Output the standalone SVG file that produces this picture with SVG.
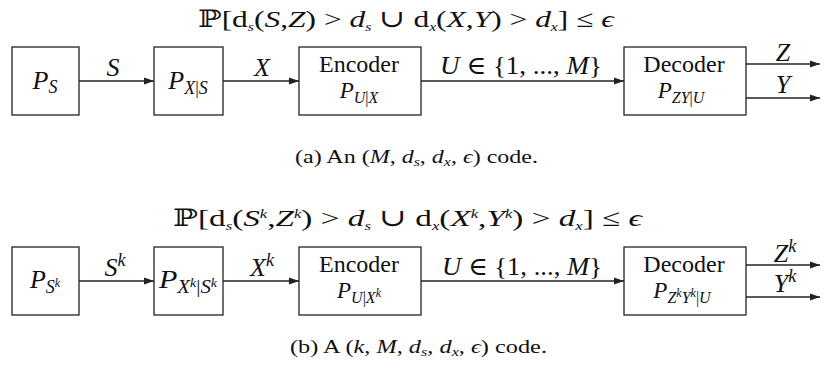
<svg xmlns="http://www.w3.org/2000/svg" width="824" height="378" viewBox="0 0 824 378">
<defs>
<style>
.box{fill:#fff;stroke:#222;stroke-width:1.3}
.ln{stroke:#222;stroke-width:1.3;fill:none;marker-end:url(#ah)}
.t{font-family:"Liberation Serif","DejaVu Serif",serif;fill:#111;font-size:26px}
.i{font-style:italic}
.s{font-size:18px}
.ss{font-size:12px}
.ti{font-size:24px}
.cap{font-size:18px}
.nm{font-size:24px}
.np{font-size:23px}
.nps{font-size:16px}
</style>
<marker id="ah" markerUnits="userSpaceOnUse" markerWidth="10" markerHeight="8" refX="10" refY="4" orient="auto">
<path d="M0,0.5 L10,4 L0,7.5 z" fill="#222"/>
</marker>
</defs>

<g id="connectors">
<line class="ln" x1="79" y1="81" x2="154" y2="81"/>
<line class="ln" x1="223" y1="81" x2="299" y2="81"/>
<line class="ln" x1="421" y1="81" x2="624" y2="81"/>
<line class="ln" x1="746" y1="64" x2="820" y2="64"/>
<line class="ln" x1="746" y1="98" x2="820" y2="98"/>
<line class="ln" x1="79" y1="281" x2="154" y2="281"/>
<line class="ln" x1="223" y1="281" x2="299" y2="281"/>
<line class="ln" x1="421" y1="281" x2="624" y2="281"/>
<line class="ln" x1="746" y1="265" x2="820" y2="265"/>
<line class="ln" x1="746" y1="297" x2="820" y2="297"/>
</g>

<g id="labels-a">
<text class="t ti" x="198" y="27" textLength="416" lengthAdjust="spacingAndGlyphs">ℙ[d<tspan class="i ss" dy="4">s</tspan><tspan dy="-4">(</tspan><tspan class="i">S</tspan>,<tspan class="i">Z</tspan>) &gt; <tspan class="i">d</tspan><tspan class="i ss" dy="4">s</tspan><tspan dy="-4"> ∪ d</tspan><tspan class="i ss" dy="4">x</tspan><tspan dy="-4">(</tspan><tspan class="i">X</tspan>,<tspan class="i">Y</tspan>) &gt; <tspan class="i">d</tspan><tspan class="i ss" dy="4">x</tspan><tspan dy="-4">] ≤ </tspan><tspan class="i">ϵ</tspan></text>
<text class="t i" x="113" y="76" text-anchor="middle">S</text>
<text class="t i" x="262" y="76" text-anchor="middle">X</text>
<text class="t i" x="521" y="74" text-anchor="middle" textLength="162" lengthAdjust="spacingAndGlyphs">U<tspan font-style="normal"> ∈ {1, ..., </tspan>M<tspan font-style="normal">}</tspan></text>
<text class="t i" x="783" y="61" text-anchor="middle">Z</text>
<text class="t i" x="783" y="93" text-anchor="middle">Y</text>
<text class="t cap" x="295" y="163" textLength="243" lengthAdjust="spacingAndGlyphs">(a)  An  (<tspan class="i">M</tspan>, <tspan class="i">d</tspan><tspan class="i ss" dy="3">s</tspan><tspan dy="-3">, </tspan><tspan class="i">d</tspan><tspan class="i ss" dy="3">x</tspan><tspan dy="-3">, </tspan><tspan class="i">ϵ</tspan>)  code.</text>
</g>

<g id="node-ps">
<rect class="box" x="12" y="47" width="67" height="68"/>
<text class="t i" x="45" y="89" text-anchor="middle">P<tspan class="s" dy="4">S</tspan></text>
</g>
<g id="node-pxs">
<rect class="box" x="154" y="47" width="69" height="68"/>
<text class="t i" x="188" y="89" text-anchor="middle">P<tspan class="s" dy="5">X</tspan><tspan class="s" font-style="normal">|</tspan><tspan class="s">S</tspan></text>
</g>
<g id="node-encoder">
<rect class="box" x="299" y="47" width="122" height="68"/>
<text class="t nm" x="359" y="72" text-anchor="middle">Encoder</text>
<text class="t i np" x="359" y="98" text-anchor="middle">P<tspan class="nps" dy="5">U</tspan><tspan class="nps" font-style="normal">|</tspan><tspan class="nps">X</tspan></text>
</g>
<g id="node-decoder">
<rect class="box" x="624" y="47" width="122" height="68"/>
<text class="t nm" x="684" y="72" text-anchor="middle">Decoder</text>
<text class="t i np" x="681" y="98" text-anchor="middle">P<tspan class="nps" dy="5">ZY</tspan><tspan class="nps" font-style="normal">|</tspan><tspan class="nps">U</tspan></text>
</g>

<g id="labels-b">
<text class="t ti" x="173" y="226" textLength="469" lengthAdjust="spacingAndGlyphs">ℙ[d<tspan class="i ss" dy="4">s</tspan><tspan dy="-4">(</tspan><tspan class="i">S</tspan><tspan class="i ss" dy="-8">k</tspan><tspan dy="8">,</tspan><tspan class="i">Z</tspan><tspan class="i ss" dy="-8">k</tspan><tspan dy="8">) &gt; </tspan><tspan class="i">d</tspan><tspan class="i ss" dy="4">s</tspan><tspan dy="-4"> ∪ d</tspan><tspan class="i ss" dy="4">x</tspan><tspan dy="-4">(</tspan><tspan class="i">X</tspan><tspan class="i ss" dy="-8">k</tspan><tspan dy="8">,</tspan><tspan class="i">Y</tspan><tspan class="i ss" dy="-8">k</tspan><tspan dy="8">) &gt; </tspan><tspan class="i">d</tspan><tspan class="i ss" dy="4">x</tspan><tspan dy="-4">] ≤ </tspan><tspan class="i">ϵ</tspan></text>
<text class="t i" x="115" y="276" text-anchor="middle">S<tspan class="s" dy="-10">k</tspan></text>
<text class="t i" x="262" y="276" text-anchor="middle">X<tspan class="s" dy="-10">k</tspan></text>
<text class="t i" x="522" y="275" text-anchor="middle" textLength="160" lengthAdjust="spacingAndGlyphs">U<tspan font-style="normal"> ∈ {1, ..., </tspan>M<tspan font-style="normal">}</tspan></text>
<text class="t i" x="785" y="262" text-anchor="middle">Z<tspan class="s" dy="-10">k</tspan></text>
<text class="t i" x="785" y="292" text-anchor="middle">Y<tspan class="s" dy="-10">k</tspan></text>
<text class="t cap" x="290" y="353" textLength="257" lengthAdjust="spacingAndGlyphs">(b)  A  (<tspan class="i">k</tspan>, <tspan class="i">M</tspan>, <tspan class="i">d</tspan><tspan class="i ss" dy="3">s</tspan><tspan dy="-3">, </tspan><tspan class="i">d</tspan><tspan class="i ss" dy="3">x</tspan><tspan dy="-3">, </tspan><tspan class="i">ϵ</tspan>)  code.</text>
</g>

<g id="node-psk">
<rect class="box" x="12" y="247" width="67" height="68"/>
<text class="t i" x="45" y="288" text-anchor="middle">P<tspan class="s" dy="5">S</tspan><tspan class="ss" dy="-6">k</tspan></text>
</g>
<g id="node-pxsk">
<rect class="box" x="154" y="247" width="69" height="68"/>
<text class="t i" x="188" y="288" text-anchor="middle" textLength="58" lengthAdjust="spacingAndGlyphs">P<tspan class="s" dy="5">X</tspan><tspan class="ss" dy="-6">k</tspan><tspan class="s" font-style="normal" dy="6">|</tspan><tspan class="s">S</tspan><tspan class="ss" dy="-6">k</tspan></text>
</g>
<g id="node-encoder-b">
<rect class="box" x="299" y="247" width="122" height="68"/>
<text class="t nm" x="359" y="272" text-anchor="middle">Encoder</text>
<text class="t i np" x="359" y="298" text-anchor="middle">P<tspan class="nps" dy="5">U</tspan><tspan class="nps" font-style="normal">|</tspan><tspan class="nps">X</tspan><tspan class="ss" dy="-6">k</tspan></text>
</g>
<g id="node-decoder-b">
<rect class="box" x="624" y="247" width="122" height="68"/>
<text class="t nm" x="684" y="272" text-anchor="middle">Decoder</text>
<text class="t i np" x="682" y="298" text-anchor="middle">P<tspan class="nps" dy="5">Z</tspan><tspan class="ss" dy="-6">k</tspan><tspan class="nps" dy="6">Y</tspan><tspan class="ss" dy="-6">k</tspan><tspan class="nps" font-style="normal" dy="6">|</tspan><tspan class="nps">U</tspan></text>
</g>
</svg>
